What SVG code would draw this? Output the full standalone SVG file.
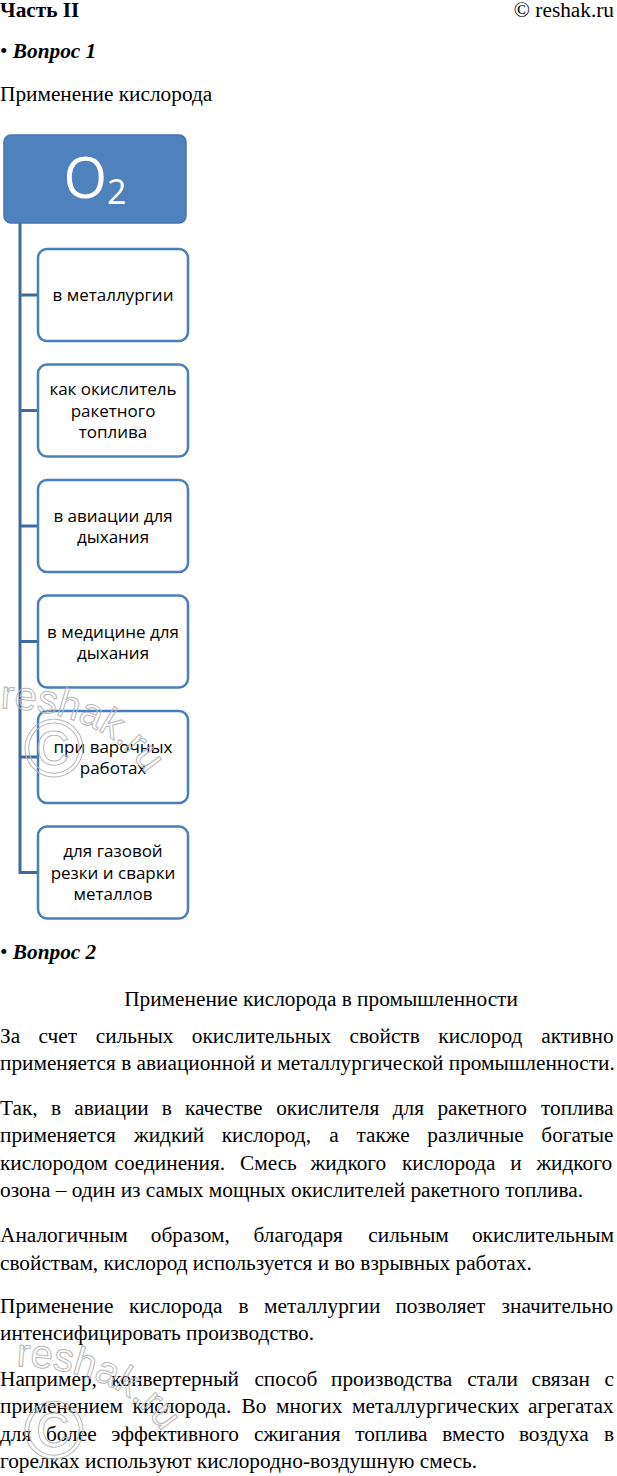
<svg xmlns="http://www.w3.org/2000/svg" width="617" height="1476" viewBox="0 0 617 1476">
<style>
.t{font-family:"Liberation Serif","Times New Roman",serif;font-size:21.3px;fill:#000}
.b{font-weight:bold}
.bi{font-weight:bold;font-style:italic}
.box{fill:#fff;stroke:#4a7ebb;stroke-width:2.5}
.bt{font-family:"Open Sans","Noto Sans",sans-serif;font-size:17px;fill:#000;text-anchor:middle}
.con{stroke:#3e6b9f;stroke-width:3;fill:none}
.wm{font-family:"Liberation Sans",sans-serif;fill:none;stroke:#b8b8b8;stroke-width:1}
</style>
<defs>
<path id="arc1" d="M0 708 Q130 713 160 805"/>
<path id="arc2" d="M16 1366 Q146 1371 176 1463"/>
</defs>
<rect width="617" height="1476" fill="#fff"/>
<g id="header">
<text class="t b" x="0" y="17">Часть II</text>
<text class="t" x="614" y="17" text-anchor="end">© reshak.ru</text>
<text class="t" x="0" y="58">• <tspan class="bi">Вопрос 1</tspan></text>
<text class="t" x="0" y="101">Применение кислорода</text>
</g>
<g id="connectors">
<path class="con" d="M20 223 V874 M20 295 H38 M20 410.5 H38 M20 526 H38 M20 641.5 H38 M20 757 H38 M20 872.5 H38"/>
</g>
<g id="o2">
<rect x="4" y="135" width="182" height="88" rx="7" fill="#4f81bd" stroke="#4475b0" stroke-width="1.5"/>
<text x="95" y="198" text-anchor="middle" font-family="Open Sans, Noto Sans, sans-serif" fill="#fff" font-size="56">O<tspan font-size="34" dy="6">2</tspan></text>
</g>
<g id="n1"><rect class="box" x="38" y="249" width="150" height="92" rx="9"/><text class="bt" x="113" y="301">в металлургии</text></g>
<g id="n2"><rect class="box" x="38" y="364.5" width="150" height="92" rx="9"/><text class="bt" x="113" y="395">как окислитель</text><text class="bt" x="113" y="416.5">ракетного</text><text class="bt" x="113" y="438">топлива</text></g>
<g id="n3"><rect class="box" x="38" y="480" width="150" height="92" rx="9"/><text class="bt" x="113" y="522">в авиации для</text><text class="bt" x="113" y="543">дыхания</text></g>
<g id="n4"><rect class="box" x="38" y="595.5" width="150" height="92" rx="9"/><text class="bt" x="113" y="637.5">в медицине для</text><text class="bt" x="113" y="658.5">дыхания</text></g>
<g id="n5"><rect class="box" x="38" y="711" width="150" height="92" rx="9"/><text class="bt" x="113" y="753">при варочных</text><text class="bt" x="113" y="774">работах</text></g>
<g id="n6"><rect class="box" x="38" y="826.5" width="150" height="92" rx="9"/><text class="bt" x="113" y="857">для газовой</text><text class="bt" x="113" y="878.5">резки и сварки</text><text class="bt" x="113" y="900">металлов</text></g>
<g id="body">
<text class="t" x="0" y="959">• <tspan class="bi">Вопрос 2</tspan></text>
<text class="t" x="321" y="1006" text-anchor="middle">Применение кислорода в промышленности</text>
<text class="t" y="1043"><tspan x="0">За</tspan><tspan x="38.5">счет</tspan><tspan x="95.8">сильных</tspan><tspan x="191.8">окислительных</tspan><tspan x="349.5">свойств</tspan><tspan x="438.3">кислород</tspan><tspan x="541.3">активно</tspan></text>
<text class="t" x="0" y="1070">применяется в авиационной и металлургической промышленности.</text>
<text class="t" y="1115"><tspan x="0">Так,</tspan><tspan x="51.1">в</tspan><tspan x="74.2">авиации</tspan><tspan x="161.8">в</tspan><tspan x="184.9">качестве</tspan><tspan x="276.2">окислителя</tspan><tspan x="392.7">для</tspan><tspan x="437.4">ракетного</tspan><tspan x="541.1">топлива</tspan></text>
<text class="t" y="1142"><tspan x="0">применяется</tspan><tspan x="134">жидкий</tspan><tspan x="221.7">кислород,</tspan><tspan x="329.3">а</tspan><tspan x="356.4">также</tspan><tspan x="427.3">различные</tspan><tspan x="541.3">богатые</tspan></text>
<text class="t" y="1170"><tspan x="0">кислородом</tspan><tspan x="114.5">соединения.</tspan><tspan x="240">Смесь</tspan><tspan x="310.5">жидкого</tspan><tspan x="402">кислорода</tspan><tspan x="510.3">и</tspan><tspan x="536.4">жидкого</tspan></text>
<text class="t" x="0" y="1197">озона – один из самых мощных окислителей ракетного топлива.</text>
<text class="t" y="1242"><tspan x="0">Аналогичным</tspan><tspan x="150.8">образом,</tspan><tspan x="253.5">благодаря</tspan><tspan x="368.3">сильным</tspan><tspan x="471.9">окислительным</tspan></text>
<text class="t" x="0" y="1270">свойствам, кислород используется и во взрывных работах.</text>
<text class="t" y="1313"><tspan x="0">Применение</tspan><tspan x="129">кислорода</tspan><tspan x="238.5">в</tspan><tspan x="264.1">металлургии</tspan><tspan x="395.4">позволяет</tspan><tspan x="501.6">значительно</tspan></text>
<text class="t" x="0" y="1340">интенсифицировать производство.</text>
<text class="t" y="1386"><tspan x="0">Например,</tspan><tspan x="111.3">конвертерный</tspan><tspan x="254.4">способ</tspan><tspan x="331">производства</tspan><tspan x="467.3">стали</tspan><tspan x="531.6">связан</tspan><tspan x="604.6">с</tspan></text>
<text class="t" y="1413"><tspan x="0">применением</tspan><tspan x="132.6">кислорода.</tspan><tspan x="241.6">Во</tspan><tspan x="276.1">многих</tspan><tspan x="352">металлургических</tspan><tspan x="528">агрегатах</tspan></text>
<text class="t" y="1441"><tspan x="0">для</tspan><tspan x="45.9">более</tspan><tspan x="111.2">эффективного</tspan><tspan x="254.1">сжигания</tspan><tspan x="355.2">топлива</tspan><tspan x="442.3">вместо</tspan><tspan x="518.9">воздуха</tspan><tspan x="603.9">в</tspan></text>
<text class="t" x="0" y="1468">горелках используют кислородно-воздушную смесь.</text>
</g>
<g id="watermarks">
<text class="wm" x="54" y="776" font-size="82" text-anchor="middle">©</text>
<text class="wm" font-size="40"><textPath href="#arc1">reshak.ru</textPath></text>
<text class="wm" x="54" y="1458" font-size="82" text-anchor="middle">©</text>
<text class="wm" font-size="40"><textPath href="#arc2">reshak.ru</textPath></text>
</g>
</svg>
